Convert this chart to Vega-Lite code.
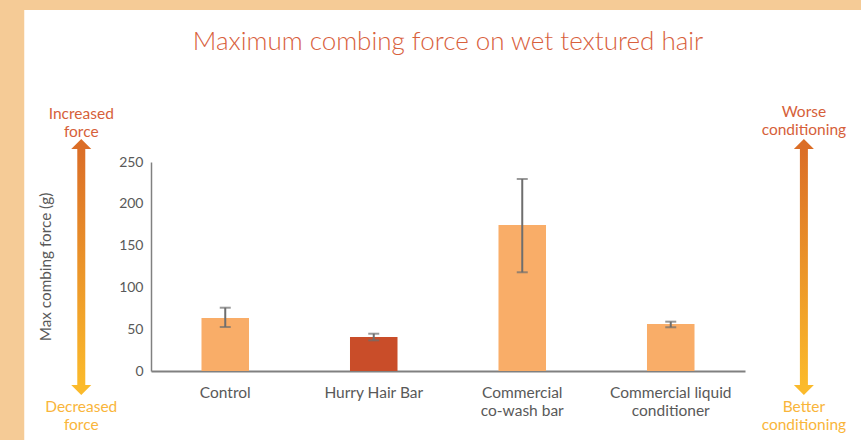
{
  "$schema": "https://vega.github.io/schema/vega-lite/v6.json",
  "width": 594,
  "height": 209,
  "autosize": {"type": "none"},
  "padding": {"left": 151, "top": 162, "right": 116, "bottom": 69},
  "background": "white",
  "title": {
    "text": "Maximum combing force on wet textured hair",
    "color": "#D8603C",
    "fontSize": 26,
    "font": "Lato",
    "fontWeight": 300,
    "anchor": "middle",
    "baseline": "alphabetic",
    "dy": 80
  },
  "config": {"view": {"stroke": null}, "font": "Lato"},
  "datasets": {
    "bars": [
      {"product": "Control", "force": 63.4, "low": 52.6, "high": 75.7, "kind": "other"},
      {"product": "Hurry Hair Bar", "force": 40.7, "low": 36.7, "high": 44.6, "kind": "hurry"},
      {"product": "Commercial co-wash bar", "force": 174.6, "low": 118.1, "high": 229.7, "kind": "other"},
      {"product": "Commercial liquid conditioner", "force": 56.2, "low": 52.3, "high": 59.0, "kind": "other"}
    ],
    "arrows": [
      {"side": "left", "pos": -0.5118},
      {"side": "right", "pos": 4.4377}
    ],
    "notes": [
      {"pos": -0.5118, "level": 307.4, "label": "Increased\nforce", "end": "top"},
      {"pos": -0.5118, "level": -43.1, "label": "Decreased\nforce", "end": "bottom"},
      {"pos": 4.4377, "level": 309.8, "label": "Worse\nconditioning", "end": "top"},
      {"pos": 4.4377, "level": -43.1, "label": "Better\nconditioning", "end": "bottom"}
    ]
  },
  "layer": [
    {
      "layer": [
        {
          "data": {"values": [{}]},
          "mark": {"type": "rect", "color": "#F5CB96"},
          "encoding": {
            "x": {"datum": -5, "type": "quantitative", "scale": {"domain": [0, 4], "nice": false, "zero": false}, "axis": null},
            "x2": {"datum": -0.9024},
            "y": {"datum": -200, "type": "quantitative", "scale": {"domain": [0, 250], "nice": false}},
            "y2": {"datum": 443.8}
          }
        },
        {
          "data": {"values": [{}]},
          "mark": {"type": "rect", "color": "#F5CB96"},
          "encoding": {
            "x": {"datum": -5, "type": "quantitative", "axis": null},
            "x2": {"datum": 10},
            "y": {"datum": 431.8, "type": "quantitative"},
            "y2": {"datum": 443.8}
          }
        },
        {
          "data": {"name": "arrows"},
          "mark": {
            "type": "bar", "width": 8, "orient": "vertical",
            "fill": {"gradient": "linear", "x1": 0, "y1": 0, "x2": 0, "y2": 1,
              "stops": [{"offset": 0, "color": "#DB6E27"}, {"offset": 1, "color": "#FBBA2B"}]}
          },
          "encoding": {
            "x": {"field": "pos", "type": "quantitative", "axis": null},
            "y": {"datum": 265.6, "type": "quantitative"},
            "y2": {"datum": -16.7}
          }
        },
        {
          "data": {"name": "arrows"},
          "mark": {"type": "point", "shape": "M-1,1L1,1L0,0Z", "size": 400, "filled": true, "opacity": 1, "color": "#DB6E27", "strokeWidth": 0},
          "encoding": {
            "x": {"field": "pos", "type": "quantitative", "axis": null},
            "y": {"datum": 277.5, "type": "quantitative"}
          }
        },
        {
          "data": {"name": "arrows"},
          "mark": {"type": "point", "shape": "M-1,-1L1,-1L0,0Z", "size": 400, "filled": true, "opacity": 1, "color": "#FBBA2B", "strokeWidth": 0},
          "encoding": {
            "x": {"field": "pos", "type": "quantitative", "axis": null},
            "y": {"datum": -28.7, "type": "quantitative"}
          }
        },
        {
          "data": {"name": "notes"},
          "mark": {"type": "text", "fontSize": 15.5, "lineHeight": 17.5, "lineBreak": "\n", "align": "center", "baseline": "middle"},
          "encoding": {
            "x": {"field": "pos", "type": "quantitative", "axis": null},
            "y": {"field": "level", "type": "quantitative"},
            "text": {"field": "label"},
            "color": {
              "field": "end", "type": "nominal",
              "scale": {"domain": ["top", "bottom"], "range": ["#D65F3A", "#F9B53A"]},
              "legend": null
            }
          }
        }
      ]
    },
    {
      "data": {"name": "bars"},
      "layer": [
        {
          "mark": {"type": "bar"},
          "encoding": {
            "x": {
              "field": "product", "type": "nominal", "sort": null,
              "scale": {"paddingInner": 0.68, "paddingOuter": 0.34},
              "axis": {
                "title": null, "labelAngle": 0, "ticks": false, "labelPadding": 14,
                "labelFontSize": 15.5, "labelColor": "#595959", "labelLineHeight": 18,
                "domainColor": "#808080", "domainWidth": 2,
                "labelExpr": "datum.label == 'Commercial co-wash bar' ? ['Commercial', 'co-wash bar'] : datum.label == 'Commercial liquid conditioner' ? ['Commercial liquid', 'conditioner'] : datum.label"
              }
            },
            "y": {
              "field": "force", "type": "quantitative",
              "axis": {
                "title": "Max combing force (g)", "titleColor": "#595959", "titleFontSize": 15.3,
                "titleFontWeight": "normal", "titleX": -106, "titleY": 104.5, "titleAngle": 270, "titleBaseline": "middle", "titleAlign": "center",
                "values": [0, 50, 100, 150, 200, 250], "ticks": false, "labelPadding": 8,
                "labelFontSize": 14, "labelColor": "#595959",
                "domainColor": "#808080", "domainWidth": 1.5,
                "gridColor": "#D9D9D9", "gridWidth": 1
              }
            },
            "color": {
              "field": "kind", "type": "nominal",
              "scale": {"domain": ["other", "hurry"], "range": ["#F9AD68", "#C94D29"]},
              "legend": null
            }
          }
        },
        {
          "mark": {"type": "rule", "color": "#6E6E6E", "strokeWidth": 2},
          "encoding": {
            "x": {"field": "product", "type": "nominal", "sort": null},
            "y": {"field": "low", "type": "quantitative"},
            "y2": {"field": "high"}
          }
        },
        {
          "mark": {"type": "tick", "color": "#6E6E6E", "thickness": 2, "size": 11, "orient": "horizontal"},
          "encoding": {
            "x": {"field": "product", "type": "nominal", "sort": null},
            "y": {"field": "low", "type": "quantitative"}
          }
        },
        {
          "mark": {"type": "tick", "color": "#6E6E6E", "thickness": 2, "size": 11, "orient": "horizontal"},
          "encoding": {
            "x": {"field": "product", "type": "nominal", "sort": null},
            "y": {"field": "high", "type": "quantitative"}
          }
        }
      ]
    }
  ],
  "resolve": {"scale": {"x": "independent", "color": "independent"}, "axis": {"x": "independent"}}
}
